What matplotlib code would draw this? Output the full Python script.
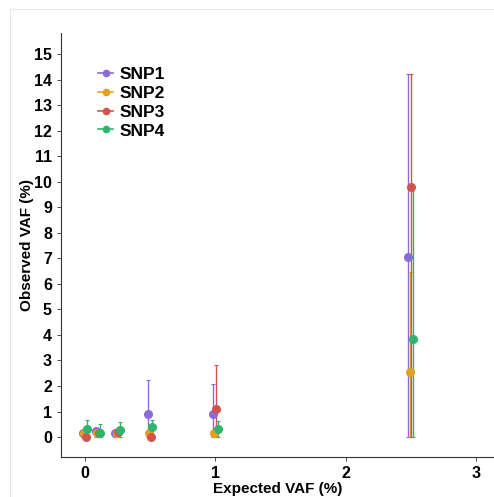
import numpy as np
import matplotlib.pyplot as plt
from matplotlib.lines import Line2D

plt.rcParams['font.family'] = ['Liberation Sans', 'DejaVu Sans']
plt.rcParams['font.weight'] = 'bold'

# Expected VAF levels (%)
expected = [0, 0.1, 0.25, 0.5, 1, 2.5]
snps = ['SNP1', 'SNP2', 'SNP3', 'SNP4']
colors = ['#8b6bd6', '#e2a21e', '#d4534f', '#2fb46c']

# Observed VAF means and error bar ends (lower, upper)
snp1_mean = [0.15, 0.22, 0.15, 0.90, 0.90, 7.05]
snp1_low = [0.0, 0.0, 0.0, 0.0, 0.0, 0.0]
snp1_high = [0.15, 0.22, 0.15, 2.25, 2.08, 14.2]

snp2_mean = [0.15, 0.15, 0.15, 0.15, 0.15, 2.55]
snp2_low = [0.0, 0.0, 0.0, 0.0, 0.0, 0.0]
snp2_high = [0.15, 0.15, 0.15, 0.15, 0.15, 6.45]

snp3_mean = [0.0, 0.17, 0.18, 0.0, 1.10, 9.8]
snp3_low = [0.0, 0.0, 0.0, 0.0, 0.0, 0.0]
snp3_high = [0.0, 0.17, 0.18, 0.0, 2.82, 14.2]

snp4_mean = [0.33, 0.15, 0.27, 0.38, 0.30, 3.85]
snp4_low = [0.0, 0.0, 0.0, 0.0, 0.0, 0.0]
snp4_high = [0.65, 0.50, 0.60, 0.68, 0.63, 9.8]

means = [snp1_mean, snp2_mean, snp3_mean, snp4_mean]
lows = [snp1_low, snp2_low, snp3_low, snp4_low]
highs = [snp1_high, snp2_high, snp3_high, snp4_high]
dodge = [-0.018, -0.006, 0.006, 0.018]

fig = plt.figure(figsize=(4.94, 4.97), dpi=100)
ax = fig.add_axes([0.1235, 0.0805, 0.8765, 0.853])

# faint frame at top and left
fig.add_artist(Line2D([0.02, 0.02], [0.0, 0.982], color='#e6e6e6', lw=0.8))
fig.add_artist(Line2D([0.02, 1.0], [0.982, 0.982], color='#e6e6e6', lw=0.8))

for i in range(4):
    x = np.array(expected) + dodge[i]
    m = np.array(means[i])
    lo = m - np.array(lows[i])
    hi = np.array(highs[i]) - m
    ax.errorbar(x, m, yerr=[lo, hi], fmt='none', ecolor=colors[i],
                elinewidth=1.0, capsize=1.5, capthick=0.8)
for i in range(4):
    x = np.array(expected) + dodge[i]
    ax.plot(x, means[i], 'o', color=colors[i], markersize=5.5, zorder=3)

ax.set_xlim(-0.184, 3.14)
ax.set_ylim(-0.78, 15.82)
ax.set_xticks([0, 1, 2, 3])
ax.set_yticks(range(16))
ax.tick_params(labelsize=11.5, length=3, width=0.6, color='#333333')
for lab in ax.get_xticklabels() + ax.get_yticklabels():
    lab.set_fontweight('bold')
ax.spines['top'].set_visible(False)
ax.spines['right'].set_visible(False)
ax.spines['left'].set_color('#333333')
ax.spines['bottom'].set_color('#333333')
ax.set_xlabel('Expected VAF (%)', fontsize=11, fontweight='bold', labelpad=1)
ax.set_ylabel('Observed VAF (%)', fontsize=11, fontweight='bold', labelpad=0)

handles = [Line2D([], [], color=c, marker='o', markersize=4.5, lw=1.2) for c in colors]
ax.legend(handles, snps, loc='upper left', bbox_to_anchor=(0.05, 0.958),
          frameon=False, prop={'weight': 'bold', 'size': 12.5},
          handlelength=0.85, handletextpad=0.4, labelspacing=0.22)

fig.savefig('out.png', dpi=100)
